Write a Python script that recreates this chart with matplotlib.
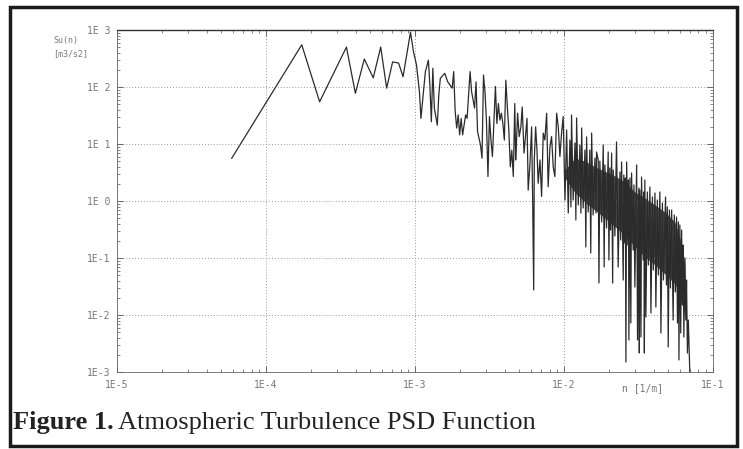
import numpy as np
import matplotlib
matplotlib.use('Agg')
import matplotlib.pyplot as plt
from matplotlib.patches import Rectangle

# Atmospheric turbulence PSD
# stored as log10 of wave number n [1/m] and log10 of Su(n) [m3/s2]

# low-frequency part (single line, sparse points)
log_n_low = [-4.23, -3.76, -3.64, -3.46, -3.40, -3.34, -3.28, -3.23, -3.19, -3.15,
             -3.11, -3.08, -3.03, -3.01, -2.99, -2.97, -2.96, -2.93, -2.91, -2.90,
             -2.89, -2.88, -2.87, -2.85, -2.84, -2.83, -2.81, -2.80, -2.78, -2.75,
             -2.74, -2.73, -2.72, -2.71, -2.70, -2.69, -2.68, -2.66, -2.65, -2.63,
             -2.62, -2.60, -2.59, -2.58, -2.56, -2.55, -2.54, -2.53, -2.52, -2.51,
             -2.50, -2.49, -2.48, -2.46, -2.45, -2.44, -2.43, -2.42, -2.41, -2.40,
             -2.39, -2.38, -2.37, -2.36, -2.35, -2.34, -2.33, -2.324]
log_su_low = [0.75, 2.74, 1.74, 2.70, 1.89, 2.49, 2.16, 2.70, 1.98, 2.44,
              2.42, 2.18, 2.96, 2.62, 2.39, 1.92, 1.45, 2.27, 2.47, 2.04,
              1.39, 2.33, 1.63, 1.33, 1.86, 2.15, 2.21, 2.24, 2.09, 1.98,
              2.27, 1.57, 1.28, 1.51, 1.16, 1.45, 1.16, 1.51, 1.45, 2.27,
              1.92, 1.63, 2.09, 1.22, 0.98, 0.75, 2.21, 1.92, 1.39, 0.43,
              1.48, 1.07, 0.78, 2.01, 1.36, 1.71, 1.42, 1.54, 1.36, 1.07,
              2.12, 1.65, 1.25, 0.60, 0.89, 0.43, 1.71, 0.72]

# mid part, 2E-3 .. 1E-2
log_n_mid = [-2.318, -2.311, -2.300, -2.289, -2.280, -2.268, -2.260, -2.248, -2.240, -2.228,
             -2.217, -2.210, -2.203, -2.199, -2.190, -2.181, -2.173, -2.161, -2.150, -2.139,
             -2.128, -2.116, -2.106, -2.094, -2.083, -2.072, -2.061, -2.049, -2.038, -2.027,
             -2.016, -2.005]
log_su_mid = [1.07, 1.54, 1.13, 1.30, 1.65, 0.84, 1.07, 1.45, 0.19, 0.66,
              1.30, 0.02, -1.56, 0.72, 1.30, 0.89, 0.31, 0.72, 0.08, 1.19,
              1.07, 1.54, 0.25, 0.95, 1.13, 0.60, 0.43, 1.54, 1.30, 0.78,
              1.19, 1.48]

# dense high-frequency part, 1E-2 .. 7E-2 (alternating peaks and dips)
log_n_high = [-1.993, -1.982, -1.971, -1.960, -1.953, -1.949, -1.938, -1.926, -1.920, -1.915,
              -1.904, -1.893, -1.886, -1.881, -1.871, -1.859, -1.853, -1.848, -1.837, -1.826,
              -1.820, -1.814, -1.804, -1.792, -1.785, -1.781, -1.770, -1.765, -1.759, -1.747,
              -1.736, -1.730, -1.725, -1.714, -1.703, -1.698, -1.692, -1.687, -1.680, -1.673,
              -1.669, -1.658, -1.647, -1.636, -1.624, -1.619, -1.613, -1.602, -1.598, -1.591,
              -1.588, -1.584, -1.579, -1.571, -1.567, -1.564, -1.557, -1.551, -1.546, -1.535,
              -1.530, -1.524, -1.512, -1.506, -1.497, -1.494, -1.490, -1.483, -1.479, -1.468,
              -1.463, -1.460, -1.457, -1.450, -1.440, -1.433, -1.423, -1.416, -1.406, -1.400,
              -1.389, -1.383, -1.373, -1.366, -1.356, -1.349, -1.339, -1.332, -1.318, -1.312,
              -1.306, -1.300, -1.292, -1.285, -1.277, -1.267, -1.259, -1.252, -1.244, -1.238,
              -1.232, -1.228, -1.222, -1.216, -1.210, -1.205, -1.200, -1.195, -1.188, -1.182,
              -1.177, -1.171, -1.165, -1.155]
log_su_high = [0.018, 1.246, -0.211, 1.070, -0.105, 1.509, 0.018, 1.018, -0.333, 1.456,
               -0.070, 0.982, -0.211, 1.281, -0.123, 0.895, -0.807, 1.123, -0.193, 0.895,
               -0.912, 1.193, -0.246, 0.754, -0.211, 0.860, 0.719, -1.439, 0.700, -0.368,
               0.982, -1.158, 0.632, -0.474, 0.860, -1.035, 0.579, -0.509, 0.842, -1.439,
               0.544, -0.614, 1.035, -1.158, 0.509, -0.684, 0.684, -1.386, 0.456, -0.737,
               0.404, -2.825, 0.684, -0.772, 0.368, -2.439, 0.404, -2.140, 0.491, -0.860,
               0.281, -1.509, 0.632, -2.439, 0.228, -2.667, 0.193, -2.386, 0.421, -1.035,
               0.158, -2.667, 0.368, -2.035, 0.158, -1.123, 0.246, -1.965, 0.070, -1.211,
               0.140, -1.860, 0.018, -1.298, 0.158, -2.316, -0.035, -1.386, 0.070, -1.474,
               -0.105, -2.561, -0.158, -1.526, -0.158, -2.088, -0.246, -1.596, -0.281, -2.140,
               -0.368, -2.789, -0.421, -2.316, -0.509, -1.825, -0.772, -2.386, -1.000, -2.088,
               -1.386, -2.667, -2.088, -3.020]

# dark core of the dense band (upper and lower edge)
log_n_band = [-1.993, -1.926, -1.859, -1.792, -1.725, -1.658, -1.591, -1.524,
              -1.457, -1.389, -1.322, -1.255, -1.208, -1.188]
log_su_band_top = [0.55, 0.75, 0.70, 0.60, 0.52, 0.44, 0.333, 0.158,
                   0.053, -0.070, -0.193, -0.368, -0.772, -1.123]
log_su_band_bot = [0.40, 0.15, -0.02, -0.16, -0.30, -0.45, -0.60, -0.80,
                   -0.98, -1.12, -1.28, -1.45, -1.70, -2.05]

n = 10 ** np.array(log_n_low + log_n_mid + log_n_high)
su = 10 ** np.array(log_su_low + log_su_mid + log_su_high)

x_ticks = [1e-5, 1e-4, 1e-3, 1e-2, 1e-1]
x_tick_labels = ['1E-5', '1E-4', '1E-3', '1E-2', '1E-1']
y_ticks = [1e-3, 1e-2, 1e-1, 1e0, 1e1, 1e2, 1e3]
y_tick_labels = ['1E-3', '1E-2', '1E-1', '1E 0', '1E 1', '1E 2', '1E 3']

fig = plt.figure(figsize=(7.43, 4.49), dpi=100)
ax = fig.add_axes([0.1575, 0.1715, 0.802, 0.7617])

ax.fill_between(10 ** np.array(log_n_band), 10 ** np.array(log_su_band_bot),
                10 ** np.array(log_su_band_top), color='#474747', lw=0)
ax.plot(n, su, color='#2b2b2b', lw=0.9)

ax.set_xscale('log')
ax.set_yscale('log')
ax.set_xlim(1e-5, 1e-1)
ax.set_ylim(1e-3, 1e3)

# ticks and labels in the plotter style
ax.set_xticks(x_ticks)
ax.set_xticklabels(x_tick_labels)
ax.set_yticks(y_ticks)
ax.set_yticklabels(y_tick_labels)
ax.tick_params(which='both', direction='in', top=True, right=True,
               labelsize=7, labelcolor='#777777', color='#555555')
ax.tick_params(which='major', length=4, width=0.6)
ax.tick_params(which='minor', length=2, width=0.5)
ax.tick_params(axis='x', pad=6)
ax.tick_params(axis='y', pad=5)
for lab in ax.get_xticklabels() + ax.get_yticklabels():
    lab.set_family('DejaVu Sans Mono')

for sp in ax.spines.values():
    sp.set_linewidth(0.6)
    sp.set_color('#666666')
ax.spines['top'].set_color('#333333')
ax.spines['top'].set_linewidth(1.0)

ax.grid(True, which='major', linestyle=(0, (1, 2)), color='#999999', lw=0.7)

# axis titles
fig.text(0.072, 0.905, 'Su(n)', fontsize=6, color='#777777', family='DejaVu Sans Mono')
fig.text(0.072, 0.875, '[m3/s2]', fontsize=6, color='#777777', family='DejaVu Sans Mono')
fig.text(0.865, 0.128, 'n [1/m]', fontsize=7, color='#777777', family='DejaVu Sans Mono',
         ha='center')

# caption
t1 = fig.text(0.017, 0.045, 'Figure 1.', fontsize=19, fontweight='bold',
              family='Liberation Serif', color='#222222')
fig.canvas.draw()
bb = t1.get_window_extent()
x_next = bb.x1 / fig.bbox.width + 0.007
fig.text(x_next, 0.045, 'Atmospheric Turbulence PSD Function', fontsize=19,
         family='Liberation Serif', color='#222222')

# outer frame of the scanned figure
fig.patches.append(Rectangle((0.014, 0.006), 0.978, 0.978, transform=fig.transFigure,
                             fill=False, edgecolor='#1a1a1a', lw=2.5))

fig.savefig('out.png', dpi=100)
